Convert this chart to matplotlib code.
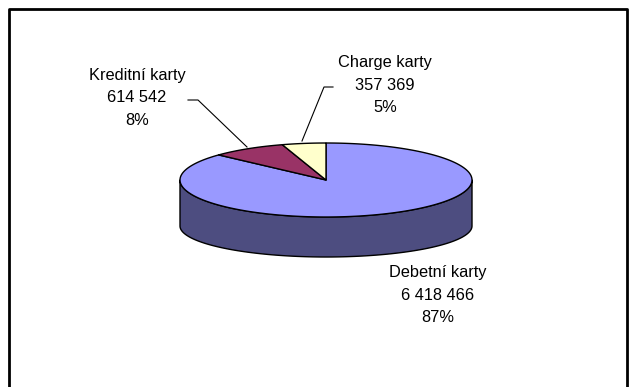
import numpy as np
import matplotlib
matplotlib.use('Agg')
import matplotlib.pyplot as plt
from matplotlib.patches import Polygon

names = ['Debetní karty', 'Kreditní karty', 'Charge karty']
values = [6418466, 614542, 357369]
top_colors = ['#9999FF', '#993366', '#FFFFCC']
side_colors = ['#4D4D80', '#4D1A33', '#808066']

# pie geometry in pixel units (y down)
cx, cy = 326, 180
a, b = 146, 37
cy_bot, b_bot = 226, 31


def top_pt(t):
    return cx + a*np.cos(np.radians(t)), cy - b*np.sin(np.radians(t))


def bot_pt(t):
    return cx + a*np.cos(np.radians(t)), cy_bot - b_bot*np.sin(np.radians(t))


def fmt(v):
    return f'{v:,}'.replace(',', ' ')


plt.rcParams['font.family'] = ['Liberation Sans', 'DejaVu Sans']
fig = plt.figure(figsize=(6.34, 3.87), dpi=100)
ax = fig.add_axes([0, 0, 1, 1])
ax.set_xlim(0, 634)
ax.set_ylim(387, 0)
ax.axis('off')

# outer frame (cut at bottom)
ax.plot([9, 9, 627, 627], [400, 8.5, 8.5, 400], color='black', lw=2, clip_on=False)

total = float(sum(values))
fracs = [v/total for v in values]

# Excel style: clockwise from 12 o'clock
angles = []
start = 90.0
for f in fracs:
    end = start - f*360
    angles.append((end, start))
    start = end

# side walls (front half only, 180..360)
for (t0, t1), col in zip(angles, side_colors):
    segs = []
    for shift in (-360, 0, 360):
        s0 = max(t0 + shift, 180)
        s1 = min(t1 + shift, 360)
        if s1 > s0:
            segs.append((s0, s1))
    for s0, s1 in segs:
        ts = np.linspace(s0, s1, 120)
        pts = [top_pt(t) for t in ts] + [bot_pt(t) for t in ts[::-1]]
        ax.add_patch(Polygon(pts, closed=True, facecolor=col, edgecolor='black', lw=1.0, joinstyle='round'))

# top faces
for (t0, t1), col in zip(angles, top_colors):
    ts = np.linspace(t0, t1, 200)
    pts = [(cx, cy)] + [top_pt(t) for t in ts]
    ax.add_patch(Polygon(pts, closed=True, facecolor=col, edgecolor='black', lw=1.0, joinstyle='round'))

# labels
label_pos = [(438, 295), (137, 98), (385, 85)]
for name, v, f, (x, y) in zip(names, values, fracs, label_pos):
    ax.text(x, y, f'{name}\n{fmt(v)}\n{f*100:.0f}%', ha='center', va='center',
            fontsize=11.8, linespacing=1.66, color='black')

# leader lines
ax.plot([188, 198, 247], [100, 100, 147], color='black', lw=0.8)
ax.plot([333, 324, 302], [87, 87, 141], color='black', lw=0.8)

fig.savefig('out.png', dpi=100)
